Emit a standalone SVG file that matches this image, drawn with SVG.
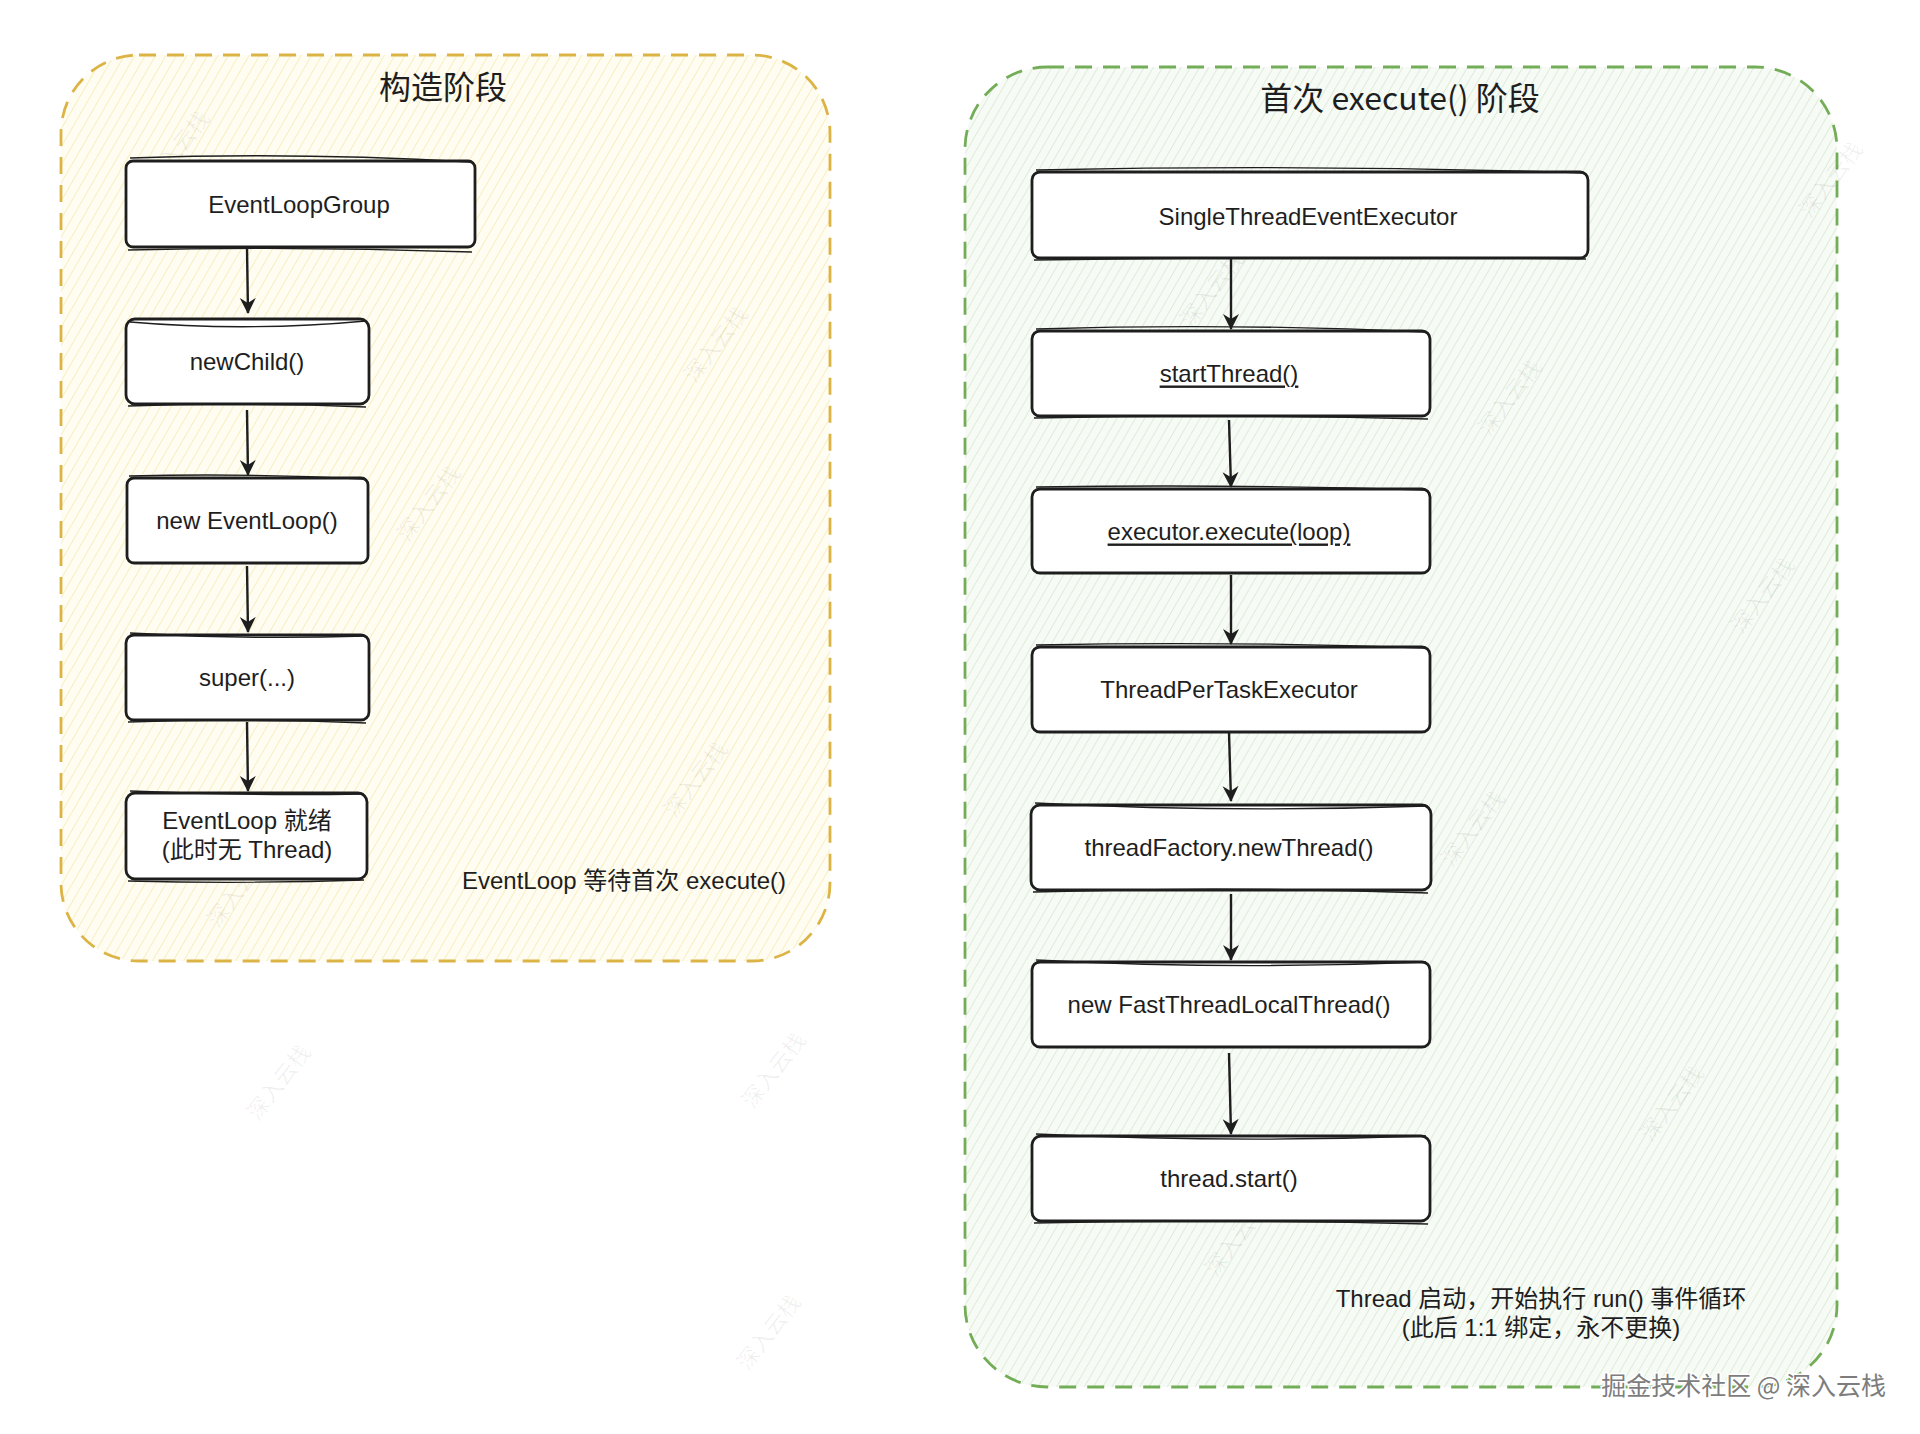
<svg xmlns="http://www.w3.org/2000/svg" width="1920" height="1434" viewBox="0 0 1920 1434">
<defs>
<style>
.lbl{font-family:"Liberation Sans","Noto Sans CJK SC",sans-serif;font-size:24px;fill:#1e1e1e;text-anchor:middle;dominant-baseline:central}
.ttl{font-family:"Noto Sans CJK SC","Liberation Sans",sans-serif;font-size:32px;fill:#1e1e1e;text-anchor:middle;dominant-baseline:central}
.note{font-family:"Liberation Sans","Noto Sans CJK SC",sans-serif;font-size:24px;fill:#1e1e1e;text-anchor:middle;dominant-baseline:central}
.box{fill:#ffffff;stroke:#1e1e1e;stroke-width:2.8}
.box2{fill:none;stroke:#1e1e1e;stroke-width:1.3}
.edge{fill:none;stroke:#1e1e1e;stroke-width:2.4;marker-end:url(#ah)}
.wm{font-family:"Noto Sans CJK SC",sans-serif;font-size:22px;fill:#000;fill-opacity:0.06;text-anchor:middle}
</style>
<pattern id="hy" width="9" height="9" patternUnits="userSpaceOnUse" patternTransform="rotate(30)">
<rect width="9" height="9" fill="#fffdf2"/>
<line x1="0" y1="0" x2="0" y2="9" stroke="#f4e7a6" stroke-width="1.3"/>
</pattern>
<pattern id="hg" width="8" height="8" patternUnits="userSpaceOnUse" patternTransform="rotate(30)">
<rect width="8" height="8" fill="#f7fbf5"/>
<line x1="0" y1="0" x2="0" y2="8" stroke="#cfe3c6" stroke-width="1.2"/>
</pattern>
<marker id="ah" viewBox="0 0 16 18" refX="15" refY="9" markerWidth="16" markerHeight="18" markerUnits="userSpaceOnUse" orient="auto">
<path d="M0,1 L16,9 L0,17 L5,9 Z" fill="#1e1e1e"/>
</marker>
</defs>
<rect width="1920" height="1434" fill="#ffffff"/>

<g id="phase-construct">
<rect x="61" y="55" width="769" height="906" rx="78" fill="url(#hy)" stroke="#dcb445" stroke-width="2.8" stroke-dasharray="17 11"/>
<text class="ttl" x="443" y="85">构造阶段</text>
</g>
<g id="phase-execute">
<rect x="965" y="67" width="872" height="1320" rx="82" fill="url(#hg)" stroke="#74ad57" stroke-width="2.8" stroke-dasharray="17 11"/>
<text class="ttl" x="1400" y="96">首次 execute() 阶段</text>
</g>

<g id="watermarks">
<text class="wm" transform="translate(184,153) rotate(-52)">深入云栈</text>
<text class="wm" transform="translate(722,349) rotate(-52)">深入云栈</text>
<text class="wm" transform="translate(435,508) rotate(-52)">深入云栈</text>
<text class="wm" transform="translate(245,894) rotate(-52)">深入云栈</text>
<text class="wm" transform="translate(285,1087) rotate(-52)">深入云栈</text>
<text class="wm" transform="translate(702,784) rotate(-52)">深入云栈</text>
<text class="wm" transform="translate(780,1075) rotate(-52)">深入云栈</text>
<text class="wm" transform="translate(775,1337) rotate(-52)">深入云栈</text>
<text class="wm" transform="translate(1218,294) rotate(-52)">深入云栈</text>
<text class="wm" transform="translate(1516,402) rotate(-52)">深入云栈</text>
<text class="wm" transform="translate(1837,184) rotate(-52)">深入云栈</text>
<text class="wm" transform="translate(1769,600) rotate(-52)">深入云栈</text>
<text class="wm" transform="translate(1479,833) rotate(-52)">深入云栈</text>
<text class="wm" transform="translate(1678,1108) rotate(-52)">深入云栈</text>
<text class="wm" transform="translate(1243,1243) rotate(-52)">深入云栈</text>
</g>

<g id="connectors">
<path class="edge" d="M247,248 L248,313"/>
<path class="edge" d="M247,410 L248,475"/>
<path class="edge" d="M247,566 L248,632"/>
<path class="edge" d="M247,722 L248,791"/>
<path class="edge" d="M1231,258 L1231,329"/>
<path class="edge" d="M1229,420 L1231,487"/>
<path class="edge" d="M1231,575 L1231,644"/>
<path class="edge" d="M1229,732 L1231,801"/>
<path class="edge" d="M1231,894 L1231,960"/>
<path class="edge" d="M1229,1053 L1231,1134"/>
</g>

<g id="n-eventloopgroup">
<rect class="box" x="126" y="161" width="349" height="86" rx="7"/>
<path class="box2" d="M130,158 Q300,152 470,162 M128,250 Q300,246 472,252"/>
<text class="lbl" x="299" y="204">EventLoopGroup</text>
</g>
<g id="n-newchild">
<rect class="box" x="126" y="319" width="243" height="85" rx="9"/>
<path class="box2" d="M130,322 Q247,332 366,321 M128,406 Q247,402 366,407"/>
<text class="lbl" x="247" y="361">newChild()</text>
</g>
<g id="n-neweventloop">
<rect class="box" x="127" y="478" width="241" height="85" rx="7"/>
<path class="box2" d="M129,476 Q247,473 364,479"/>
<text class="lbl" x="247" y="520">new EventLoop()</text>
</g>
<g id="n-super">
<rect class="box" x="126" y="635" width="243" height="85" rx="8"/>
<path class="box2" d="M130,633 Q247,640 366,636 M128,722 Q247,718 366,723"/>
<text class="lbl" x="247" y="677">super(...)</text>
</g>
<g id="n-ready">
<rect class="box" x="126" y="793" width="241" height="86" rx="9"/>
<path class="box2" d="M130,791 Q247,796 364,794 M128,881 Q247,884 364,880"/>
<text class="lbl" x="247" y="820">EventLoop 就绪</text>
<text class="lbl" x="247" y="849">(此时无 Thread)</text>
</g>
<g id="note-wait">
<text class="note" x="624" y="880">EventLoop 等待首次 execute()</text>
</g>

<g id="n-singlethread">
<rect class="box" x="1032" y="172" width="556" height="86" rx="8"/>
<path class="box2" d="M1036,170 Q1310,164 1584,173 M1034,260 Q1310,256 1586,259"/>
<text class="lbl" x="1308" y="216">SingleThreadEventExecutor</text>
</g>
<g id="n-startthread">
<rect class="box" x="1032" y="331" width="398" height="85" rx="8"/>
<path class="box2" d="M1036,329 Q1230,323 1426,332 M1034,418 Q1230,414 1428,419"/>
<text class="lbl" x="1229" y="373" text-decoration="underline">startThread()</text>
</g>
<g id="n-executorexecute">
<rect class="box" x="1032" y="489" width="398" height="84" rx="8"/>
<path class="box2" d="M1036,487 Q1230,484 1426,490"/>
<text class="lbl" x="1229" y="531" text-decoration="underline">executor.execute(loop)</text>
</g>
<g id="n-threadpertask">
<rect class="box" x="1032" y="647" width="398" height="85" rx="8"/>
<path class="box2" d="M1036,645 Q1230,641 1426,648"/>
<text class="lbl" x="1229" y="689">ThreadPerTaskExecutor</text>
</g>
<g id="n-newthread">
<rect class="box" x="1031" y="805" width="400" height="85" rx="9"/>
<path class="box2" d="M1035,803 Q1230,813 1428,806 M1033,892 Q1230,886 1428,893"/>
<text class="lbl" x="1229" y="847">threadFactory.newThread()</text>
</g>
<g id="n-fastthread">
<rect class="box" x="1032" y="962" width="398" height="85" rx="8"/>
<path class="box2" d="M1036,960 Q1230,970 1426,962"/>
<text class="lbl" x="1229" y="1004">new FastThreadLocalThread()</text>
</g>
<g id="n-threadstart">
<rect class="box" x="1032" y="1136" width="398" height="85" rx="9"/>
<path class="box2" d="M1036,1134 Q1230,1143 1426,1136 M1034,1223 Q1230,1219 1428,1224"/>
<text class="lbl" x="1229" y="1178">thread.start()</text>
</g>
<g id="note-run">
<text class="note" x="1541" y="1298">Thread 启动，开始执行 run() 事件循环</text>
<text class="note" x="1541" y="1327">(此后 1:1 绑定，永不更换)</text>
</g>

<g id="site-watermark">
<text x="1886" y="1384" style="font-family:'Noto Sans CJK SC',sans-serif;font-size:25px;fill:#7d7d7d;stroke:#ffffff;stroke-width:3;paint-order:stroke;text-anchor:end;dominant-baseline:central">掘金技术社区 @ 深入云栈</text>
</g>
</svg>
